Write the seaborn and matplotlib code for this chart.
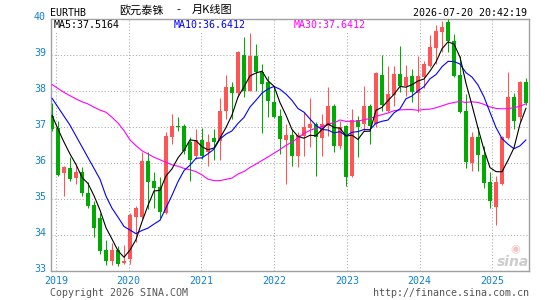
import matplotlib
matplotlib.use("Agg")
import matplotlib.pyplot as plt
import matplotlib.transforms as mtransforms
import seaborn as sns
import numpy as np
import pandas as pd

# ---------------- data (monthly OHLC) ----------------
opens = [37.31, 36.96, 35.72, 35.86, 35.57, 35.74, 35.17, 34.83, 34.46, 33.58,
         33.29, 33.58, 33.22, 33.33, 34.49, 34.49, 36.06, 35.49, 35.34, 34.61,
         36.71, 37.04, 37.04, 36.57, 36.20, 36.65, 36.30, 36.69, 36.62, 37.45,
         38.12, 37.94, 39.00, 38.01, 38.96, 38.52, 38.24, 37.70, 37.31, 36.65,
         36.79, 36.19, 36.76, 36.97, 37.08, 36.69, 37.04, 37.57, 36.48, 37.04,
         35.65, 37.20, 37.08, 37.57, 37.08, 38.44, 37.45, 37.90, 38.47, 38.13,
         38.43, 37.94, 38.38, 38.70, 39.19, 39.63, 39.93, 39.40, 38.44, 37.45,
         35.99, 36.73, 36.23, 35.46, 34.77, 35.42, 36.69, 37.82, 37.27, 38.24]
highs = [37.67, 37.18, 35.93, 36.16, 35.97, 35.88, 35.46, 34.95, 34.60, 33.87,
         33.78, 33.70, 33.72, 34.62, 34.81, 36.31, 36.31, 35.74, 35.60, 36.87,
         37.36, 37.27, 37.08, 36.71, 36.94, 36.96, 36.80, 36.94, 37.80, 38.44,
         38.24, 39.12, 39.49, 39.60, 39.31, 38.75, 38.43, 38.10, 37.50, 37.08,
         36.94, 36.85, 37.43, 37.80, 37.15, 37.36, 38.10, 37.64, 37.18, 37.06,
         37.50, 37.31, 38.15, 37.64, 38.52, 39.00, 38.70, 38.70, 39.24, 38.73,
         38.61, 38.96, 38.84, 39.56, 39.83, 39.95, 40.00, 39.58, 38.98, 37.92,
         36.85, 36.99, 36.48, 35.74, 35.65, 36.75, 38.54, 37.94, 38.29, 38.35]
lows = [36.90, 35.65, 35.09, 35.49, 35.42, 35.09, 34.75, 33.94, 33.48, 33.17,
        33.17, 33.15, 33.19, 33.20, 33.80, 34.45, 34.72, 34.74, 34.46, 34.58,
        36.53, 36.90, 36.25, 35.49, 36.11, 36.10, 35.92, 36.09, 36.09, 37.22,
        37.22, 37.82, 37.82, 37.99, 38.01, 36.83, 37.27, 37.25, 36.25, 35.42,
        35.91, 35.88, 36.20, 36.44, 35.63, 36.20, 36.76, 36.30, 36.40, 35.35,
        35.60, 36.16, 36.90, 36.53, 37.00, 37.45, 37.43, 37.59, 37.96, 37.87,
        37.69, 37.41, 38.07, 38.68, 38.75, 39.07, 39.09, 38.38, 37.40, 35.85,
        35.79, 35.79, 35.30, 34.74, 34.28, 35.40, 36.66, 36.94, 37.13, 37.60]
closes = [36.94, 35.67, 35.88, 35.56, 35.74, 35.16, 34.81, 34.19, 33.56, 33.29,
          33.58, 33.19, 33.29, 34.56, 34.74, 36.06, 35.46, 35.30, 34.63, 36.76,
          37.04, 36.99, 36.34, 36.08, 36.65, 36.20, 36.57, 36.59, 37.45, 38.12,
          37.94, 39.07, 38.01, 38.96, 38.52, 38.19, 37.73, 37.27, 36.67, 36.78,
          36.19, 36.79, 37.01, 37.08, 36.71, 37.08, 37.57, 36.48, 37.01, 35.60,
          37.20, 36.99, 37.59, 37.04, 38.50, 37.61, 37.92, 38.47, 38.13, 38.40,
          37.96, 38.43, 38.75, 39.23, 39.66, 39.79, 39.40, 38.43, 37.43, 36.02,
          36.73, 36.23, 35.44, 34.94, 35.46, 36.71, 37.82, 37.18, 38.24, 37.67]

# moving-average values at the start of the chart (window reaches before the first candle)
ma5_head = [37.33, 36.94, 36.58, 36.25]
ma10_head = [37.80, 37.55, 37.30, 37.05, 36.75, 36.45, 36.15, 35.85, 35.55]
ma30_head = [38.18, 38.07, 37.96, 37.87, 37.78, 37.70, 37.64, 37.55, 37.47, 37.41,
             37.27, 37.11, 36.90, 36.64, 36.48, 36.34, 36.25, 36.16, 36.09, 36.02,
             35.95, 35.91, 35.85, 35.81, 35.76, 35.67, 35.55, 35.51, 35.51]

year_labels = ["2019", "2020", "2021", "2022", "2023", "2024", "2025"]
y_ticks = [33, 34, 35, 36, 37, 38, 39, 40]

symbol = "EURTHB"
title_parts = ["欧元泰铢", "-", "月K线图"]   # 欧元泰铢 - 月K线图
timestamp = "2026-07-20 20:42:19"
legend_ma5 = "MA5:37.5164"
legend_ma10 = "MA10:36.6412"
legend_ma30 = "MA30:37.6412"
copyright_txt = "Copyright 2026 SINA.COM"
url_txt = "http://finance.sina.com.cn"

# ---------------- derived ----------------
df = pd.DataFrame({"open": opens, "high": highs, "low": lows, "close": closes})
df["idx"] = np.arange(len(df))
c = df["close"]
ma5 = c.rolling(5).mean().to_numpy()
ma5[:len(ma5_head)] = ma5_head
ma10 = c.rolling(10).mean().to_numpy()
ma10[:len(ma10_head)] = ma10_head
ma30 = c.rolling(30).mean().to_numpy()
ma30[:len(ma30_head)] = ma30_head
df["ma5"], df["ma10"], df["ma30"] = ma5, ma10, ma30

# ---------------- style ----------------
sns.set_style("white")
plt.rcParams["font.family"] = ["DejaVu Sans Mono", "Noto Sans CJK SC"]

W, H = 545, 300
fig = plt.figure(figsize=(W / 100, H / 100), dpi=100)
ax_l, ax_r, ax_t, ax_b = 50.7, 529.0, 19.0, 271.0
ax = fig.add_axes([ax_l / W, 1 - ax_b / H, (ax_r - ax_l) / W, (ax_b - ax_t) / H])

RED = "#ff5555"
GREEN = "#00aa00"
BLUE_TXT = "#1080d0"

up = df["close"] >= df["open"]
colors = np.where(up, RED, GREEN)

# wicks
ax.vlines(df["idx"], df["low"], df["high"], colors=colors, linewidth=0.75, zorder=3)
# bodies
body_bottom = np.minimum(df["open"], df["close"])
body_h = np.maximum(np.abs(df["close"] - df["open"]), 0.025)
ax.bar(df["idx"], body_h, bottom=body_bottom, width=0.76, color=colors,
       edgecolor=colors, linewidth=0, zorder=4)

# moving averages
sns.lineplot(data=df, x="idx", y="ma30", ax=ax, color="#ff00ff", linewidth=0.8, zorder=5)
sns.lineplot(data=df, x="idx", y="ma10", ax=ax, color="#0000ff", linewidth=0.8, zorder=6)
sns.lineplot(data=df, x="idx", y="ma5", ax=ax, color="#000000", linewidth=0.8, zorder=7)

# scales
px_per_unit = 6.0
first_px = 52.0
ax.set_xlim((ax_l - first_px) / px_per_unit, (ax_r - first_px) / px_per_unit)
ax.set_ylim(33, 40)

year_offset = (56.0 - first_px) / px_per_unit
year_step = 72.7 / px_per_unit
year_pos = [year_offset + i * year_step for i in range(len(year_labels))]
ax.set_xticks(year_pos)
ax.set_xticklabels(year_labels)
ax.set_yticks(y_ticks)
ax.set_yticklabels([str(v) for v in y_ticks])
ax.set_xlabel("")
ax.set_ylabel("")

ax.tick_params(axis="both", length=0, labelsize=7.2, labelcolor=BLUE_TXT)
ax.tick_params(axis="x", pad=3.6)
ax.tick_params(axis="y", pad=3.5)
offset = mtransforms.ScaledTranslation(0, 2.5 / 100, fig.dpi_scale_trans)
for lab in ax.get_yticklabels():
    lab.set_transform(lab.get_transform() + offset)

ax.grid(True, color="#aaaaaa", linestyle=(0, (1, 2)), linewidth=0.75)
ax.set_axisbelow(True)
for s in ax.spines.values():
    s.set_color("#a0a0a0")
    s.set_linewidth(1.0)
    s.set_visible(True)

def fx(x):
    return x / W

def fy(y):
    return 1 - y / H

# header
fig.text(fx(49.6), fy(15.6), symbol, fontsize=7.2, color="black", va="baseline", ha="left")
cjk = ["Noto Sans CJK SC", "DejaVu Sans"]
fig.text(fx(119.6), fy(10.0), title_parts[0], fontsize=8.0, color="black", va="center",
         ha="left", family=cjk)
fig.text(fx(178.5), fy(10.0), title_parts[1], fontsize=8.0, color="black", va="center",
         ha="center", family=cjk)
fig.text(fx(191.5), fy(10.0), title_parts[2], fontsize=8.0, color="black", va="center",
         ha="left", family=cjk)
fig.text(fx(527.0), fy(15.6), timestamp, fontsize=7.2, color="black", va="baseline", ha="right")

# MA legend row inside plot
bb = dict(facecolor="white", edgecolor="none", pad=0.6)
fig.text(fx(53.7), fy(28.4), legend_ma5, fontsize=7.2, color="black", va="baseline", bbox=bb, zorder=10)
fig.text(fx(173.3), fy(28.4), legend_ma10, fontsize=7.2, color="#0000ff", va="baseline", bbox=bb, zorder=10)
fig.text(fx(294.0), fy(28.4), legend_ma30, fontsize=7.2, color="#ff00ff", va="baseline", bbox=bb, zorder=10)

# footer
fig.text(fx(49.5), fy(296.0), copyright_txt, fontsize=7.2, color="#555555", va="baseline", ha="left")
fig.text(fx(529.0), fy(296.0), url_txt, fontsize=7.2, color="#555555", va="baseline", ha="right")

# watermark
fig.text(fx(513.0), fy(262.0), "sina", fontsize=10, color="#cccccc", fontweight="bold",
         style="italic", family="DejaVu Sans", ha="center", va="center", zorder=1)
fig.text(fx(515.0), fy(249.0), "◉", fontsize=8, color="#f3c6c6", family="DejaVu Sans",
         ha="center", va="center", zorder=1)

fig.savefig("out.png", dpi=100)
